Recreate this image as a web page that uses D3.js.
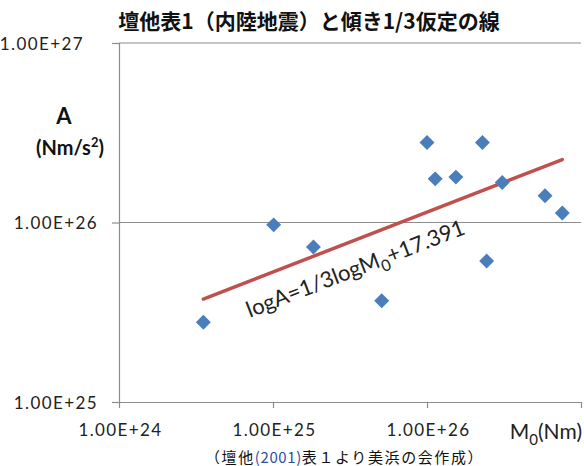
<!DOCTYPE html>
<html>
<head>
<meta charset="utf-8">
<script src="https://cdn.jsdelivr.net/npm/d3@7"></script>
<style>
  body { margin: 0; background: #fff; }
  svg { display: block; }
  .tick-label { font-family: Lato, "Liberation Sans", sans-serif; font-size: 17px; letter-spacing: 1.4px; fill: #222; }
</style>
</head>
<body>
<svg id="chart" width="584" height="466"></svg>
<script>
// Seismic moment M0 (Nm) and short-period level A (Nm/s^2), inland earthquakes
const momentNm = [1.0e26, 2.29e26, 1.13e26, 1.54e26, 3.08e26, 5.84e26, 7.56e26, 1.01e25, 1.83e25, 2.44e26, 5.08e25, 3.53e24];
const levelA   = [2.79e26, 2.79e26, 1.75e26, 1.79e26, 1.67e26, 1.41e26, 1.13e26, 9.7e25, 7.3e25, 6.1e25, 3.67e25, 2.78e25];

// Assumed relation: logA = 1/3 logM0 + 17.391
const fitSlope = 1 / 3;
const fitIntercept = 17.391;

const xTickValues = [1e24, 1e25, 1e26, 1e27];
const xTickLabels = ["1.00E+24", "1.00E+25", "1.00E+26", ""];
const yTickValues = [1e25, 1e26, 1e27];
const yTickLabels = ["1.00E+25", "1.00E+26", "1.00E+27"];

const titleText = "壇他表1（内陸地震）と傾き1/3仮定の線";
const sourceParts = ["（壇他", "(2001)", "表１より美浜の会作成）"];

const W = 584, H = 466;
const margin = { top: 43, right: 3, bottom: 64, left: 119 };
const svg = d3.select("#chart");

const x = d3.scaleLog().domain([1e24, 1e27]).range([margin.left, W - margin.right]);
const y = d3.scaleLog().domain([1e25, 1e27]).range([H - margin.bottom, margin.top]);

const gridColor = "#8c8c8c";

// Horizontal gridlines (major)
svg.append("g")
  .selectAll("line")
  .data(yTickValues.filter(v => v > 1e25))
  .join("line")
  .attr("x1", margin.left).attr("x2", W - margin.right)
  .attr("y1", d => y(d)).attr("y2", d => y(d))
  .attr("stroke", gridColor).attr("stroke-width", 1.2);

// Y axis
const yAxis = svg.append("g")
  .attr("transform", `translate(${margin.left},0)`)
  .call(d3.axisLeft(y).tickValues(yTickValues)
    .tickFormat((d, i) => yTickLabels[i]).tickSize(7).tickPadding(14));
yAxis.select(".domain").attr("stroke", gridColor).attr("stroke-width", 1.2);
yAxis.selectAll(".tick line").attr("stroke", gridColor).attr("stroke-width", 1.2);
yAxis.selectAll(".tick text").attr("class", "tick-label").attr("dy", "0.36em");
yAxis.selectAll(".tick text").filter(d => d === 1e27).attr("dx", -14);

// X axis
const xAxis = svg.append("g")
  .attr("transform", `translate(0,${H - margin.bottom})`)
  .call(d3.axisBottom(x).tickValues(xTickValues)
    .tickFormat((d, i) => xTickLabels[i]).tickSize(6).tickSizeOuter(0).tickPadding(16));
xAxis.select(".domain").attr("stroke", gridColor).attr("stroke-width", 1.2);
xAxis.selectAll(".tick line").attr("stroke", gridColor).attr("stroke-width", 1.2);
xAxis.selectAll(".tick text").attr("class", "tick-label").attr("dx", 1);

// Fit line across the data range
const fitFn = m => Math.pow(10, fitSlope * Math.log10(m) + fitIntercept);
const [mMin, mMax] = d3.extent(momentNm);
const fitPts = [mMin, mMax].map(m => [m, fitFn(m)]);
svg.append("path")
  .datum(fitPts)
  .attr("d", d3.line().x(d => x(d[0])).y(d => y(d[1])))
  .attr("fill", "none")
  .attr("stroke", "#c0504d")
  .attr("stroke-width", 3.5)
  .attr("stroke-linecap", "round");

// Data points (diamonds)
const diamond = d3.symbol().type(d3.symbolSquare).size(112);
svg.append("g")
  .selectAll("path")
  .data(d3.zip(momentNm, levelA))
  .join("path")
  .attr("d", diamond)
  .attr("transform", d => `translate(${x(d[0])},${y(d[1])}) rotate(45)`)
  .attr("fill", "#4a7ebb");

// Equation label along the fit line
const labelM = Math.pow(10, 25.54);
const p0 = [x(mMin), y(fitFn(mMin))], p1 = [x(mMax), y(fitFn(mMax))];
const angle = Math.atan2(p1[1] - p0[1], p1[0] - p0[0]) * 180 / Math.PI;
const eq = svg.append("text")
  .attr("transform", `translate(${x(labelM) + 2},${y(fitFn(labelM)) + 36}) rotate(${angle})`)
  .attr("text-anchor", "middle")
  .attr("font-family", "Lato, 'Liberation Sans', sans-serif")
  .attr("font-size", 22)
  .attr("fill", "#222");
eq.append("tspan").text("logA=1/3logM");
eq.append("tspan").text("0").attr("font-size", 16).attr("dy", 6);
eq.append("tspan").text("+17.391").attr("dy", -6);

// Title
svg.append("text")
  .attr("x", 309).attr("y", 29)
  .attr("text-anchor", "middle")
  .attr("font-family", "'Noto Sans CJK JP', sans-serif")
  .attr("font-weight", "bold")
  .attr("font-size", 21)
  .attr("fill", "#111")
  .text(titleText);

// Y axis title
const yTitle = svg.append("g")
  .attr("font-family", "Lato, 'Liberation Sans', sans-serif")
  .attr("font-weight", "bold")
  .attr("fill", "#111")
  .attr("text-anchor", "middle");
yTitle.append("text").attr("x", 64).attr("y", 124).attr("font-size", 22).text("A");
const yUnit = yTitle.append("text").attr("x", 70).attr("y", 155).attr("font-size", 20);
yUnit.append("tspan").text("(Nm/s");
yUnit.append("tspan").text("2").attr("font-size", 13).attr("dy", -8);
yUnit.append("tspan").text(")").attr("dy", 8);

// X axis title
const xTitle = svg.append("text")
  .attr("x", 582).attr("y", 439)
  .attr("text-anchor", "end")
  .attr("font-family", "Lato, 'Liberation Sans', sans-serif")
  .attr("font-size", 21)
  .attr("fill", "#222");
xTitle.append("tspan").text("M");
xTitle.append("tspan").text("0").attr("font-size", 15).attr("dy", 6);
xTitle.append("tspan").text("(Nm)").attr("dy", -6);

// Source note
const note = svg.append("text")
  .attr("x", 205).attr("y", 463)
  .attr("font-family", "'Noto Sans CJK JP', sans-serif")
  .attr("font-size", 15)
  .attr("letter-spacing", 1.6)
  .attr("fill", "#111");
note.append("tspan").text(sourceParts[0]);
note.append("tspan").text(sourceParts[1]).attr("fill", "#3050a0").attr("letter-spacing", 0.6);
note.append("tspan").text(sourceParts[2]);
</script>
</body>
</html>
